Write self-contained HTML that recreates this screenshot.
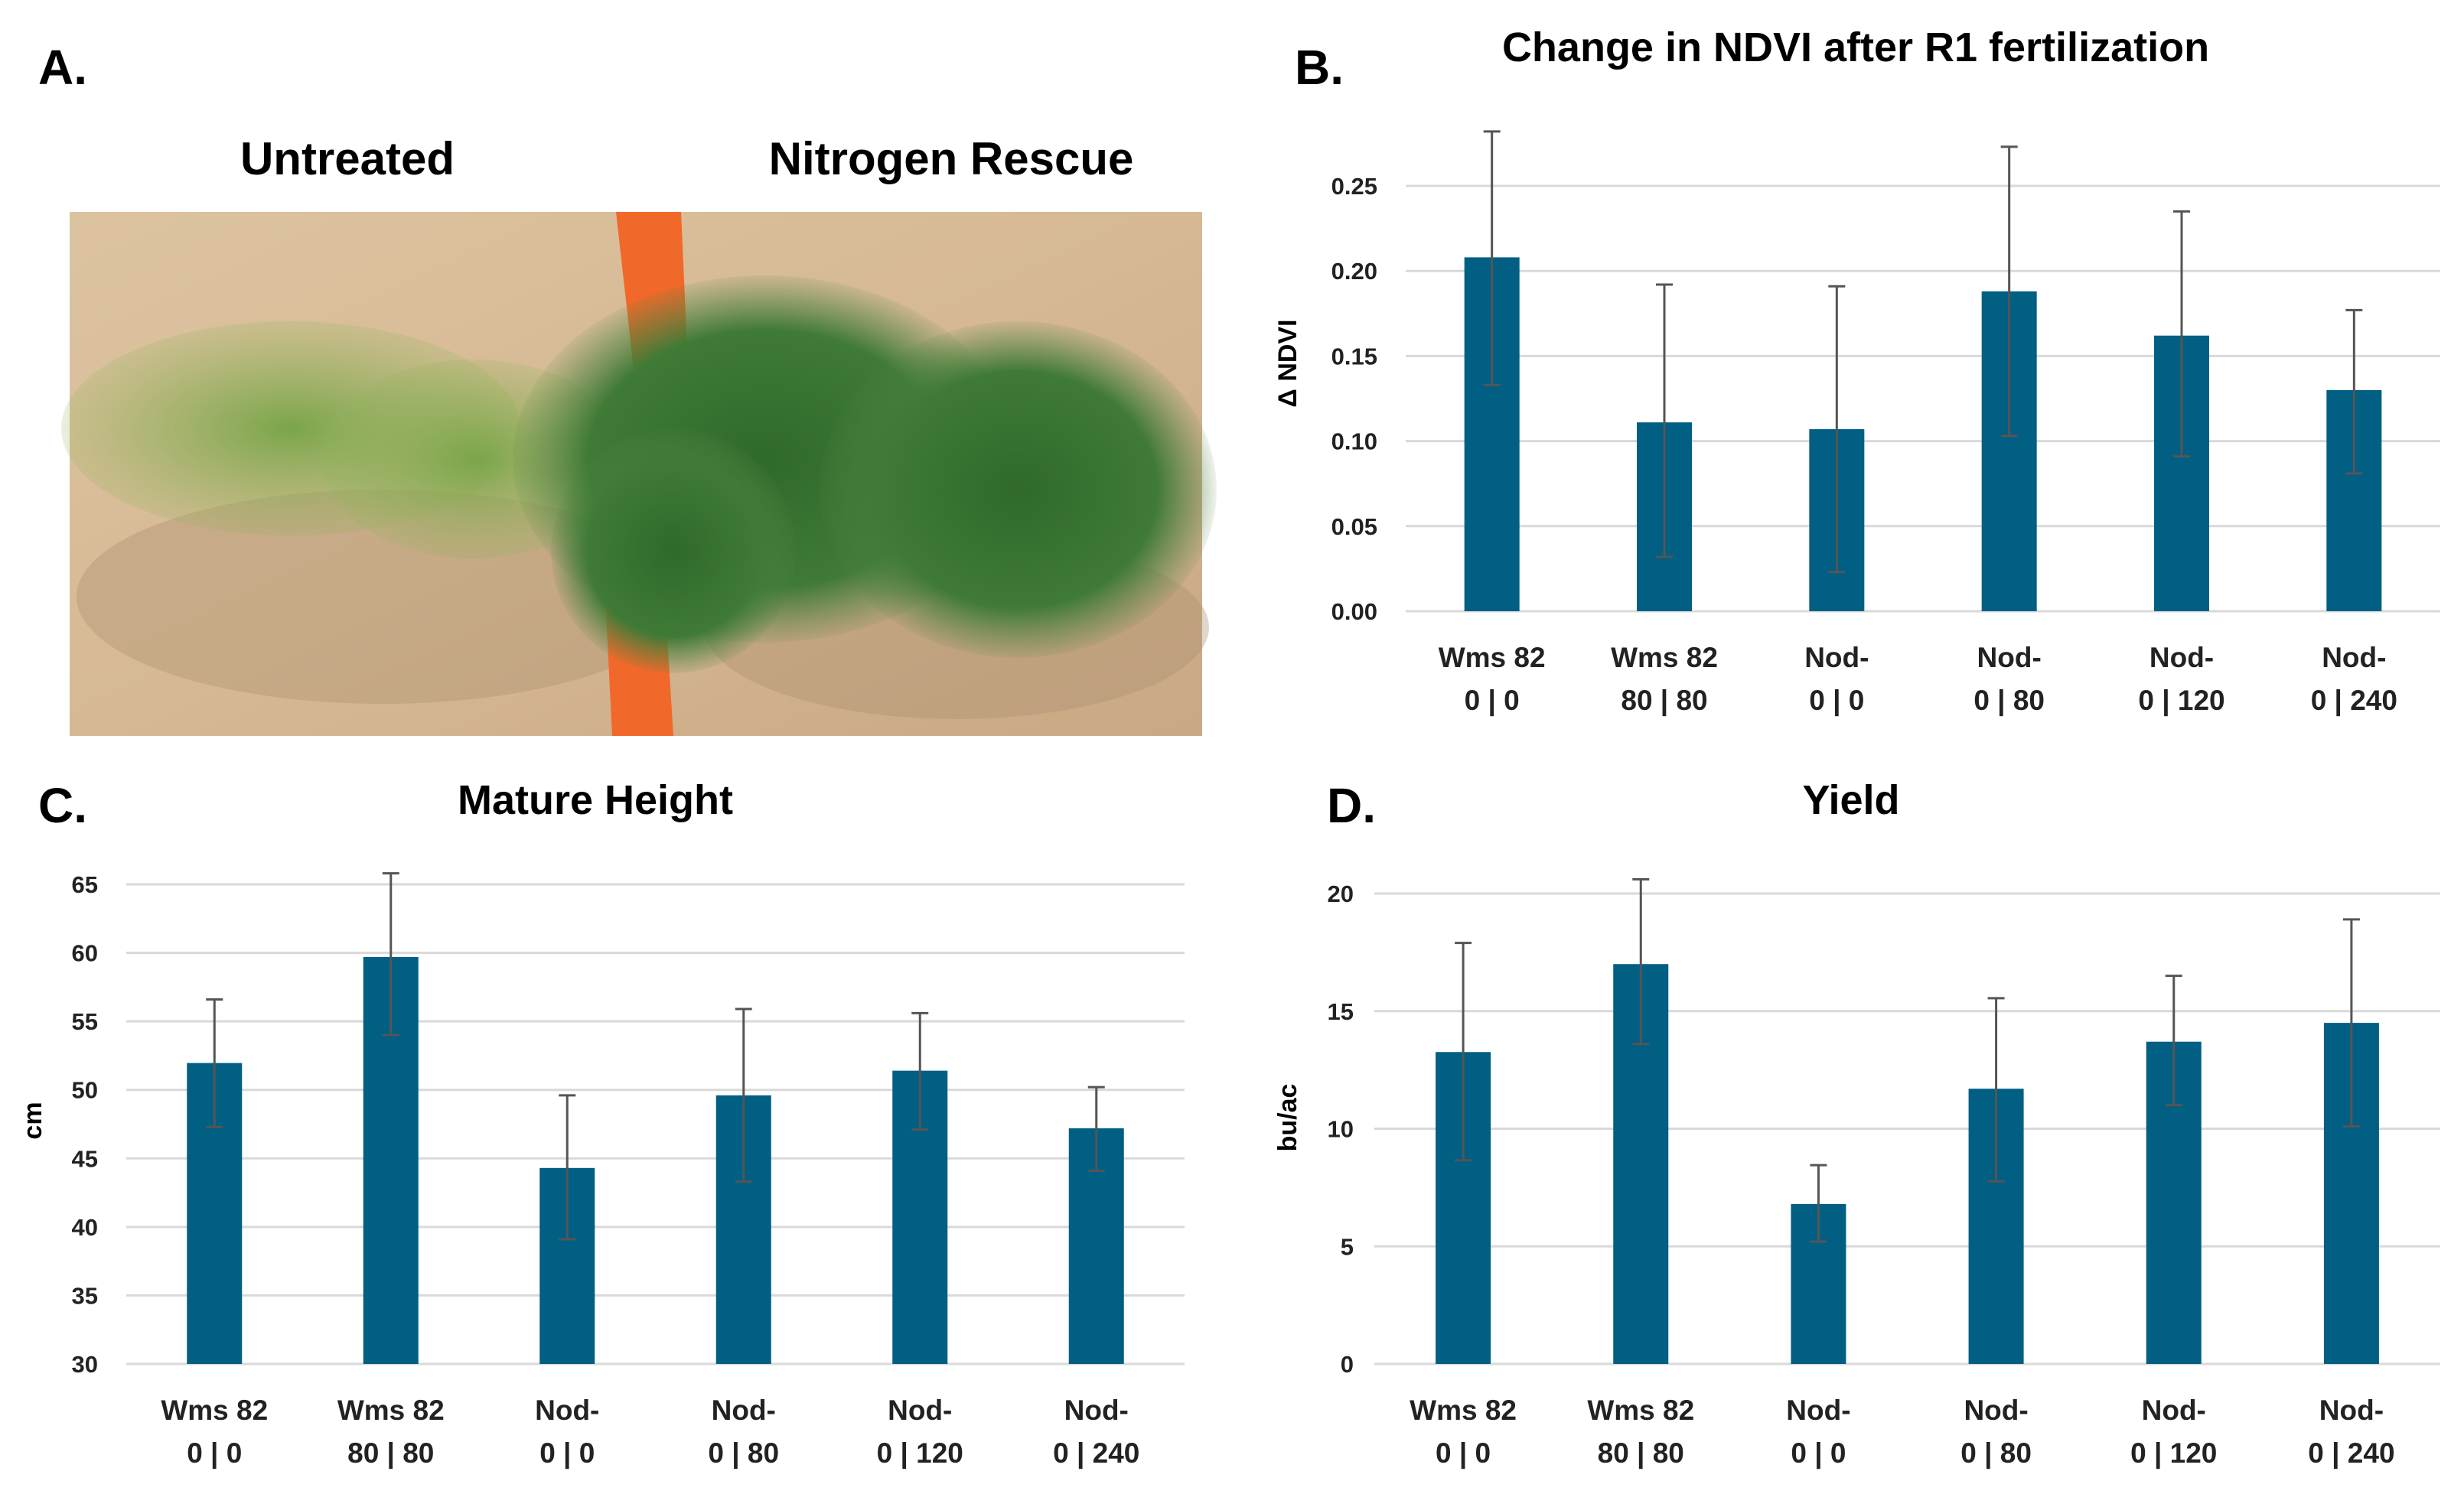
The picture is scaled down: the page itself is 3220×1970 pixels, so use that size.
<!DOCTYPE html>
<html><head><meta charset="utf-8"><style>
html,body{margin:0;padding:0;background:#fff;}
svg{display:block;font-family:"Liberation Sans",sans-serif;}
</style></head><body>
<svg id="fig" width="3220" height="1970" viewBox="0 0 3220 1970" xmlns="http://www.w3.org/2000/svg">
<defs>
<linearGradient id="sand" x1="0" y1="0" x2="1" y2="1">
<stop offset="0" stop-color="#dcc3a0"/><stop offset="0.5" stop-color="#d6b993"/><stop offset="1" stop-color="#c9a884"/>
</linearGradient>
<radialGradient id="leafL" cx="0.5" cy="0.5" r="0.5"><stop offset="0" stop-color="#7aa54a"/><stop offset="1" stop-color="#8fb35a" stop-opacity="0.2"/></radialGradient>
<radialGradient id="leafR" cx="0.5" cy="0.5" r="0.5"><stop offset="0" stop-color="#2f6a2c"/><stop offset="0.7" stop-color="#3f7a36"/><stop offset="1" stop-color="#4d8440" stop-opacity="0.1"/></radialGradient>
</defs>
<g>
<text x="50" y="110" font-size="64" font-weight="bold">A.</text>
<text x="454" y="228" font-size="60" font-weight="bold" text-anchor="middle">Untreated</text>
<text x="1243" y="228" font-size="60" font-weight="bold" text-anchor="middle">Nitrogen Rescue</text>
<g>
<rect x="91" y="277" width="1480" height="685" fill="url(#sand)"/>
<ellipse cx="500" cy="780" rx="400" ry="140" fill="#a98b6c" opacity="0.35"/>
<ellipse cx="1250" cy="820" rx="330" ry="120" fill="#a98b6c" opacity="0.35"/>
<path d="M805 277 L890 277 L900 500 L870 800 L880 962 L800 962 L790 760 L830 500 Z" fill="#f0692a"/>
<ellipse cx="380" cy="560" rx="300" ry="140" fill="url(#leafL)"/>
<ellipse cx="620" cy="600" rx="200" ry="130" fill="url(#leafL)"/>
<ellipse cx="1000" cy="600" rx="330" ry="240" fill="url(#leafR)"/>
<ellipse cx="1330" cy="640" rx="260" ry="220" fill="url(#leafR)"/>
<ellipse cx="880" cy="720" rx="160" ry="160" fill="url(#leafR)"/>
</g>
</g>
<g id="charts"></g>
</svg>
<script>
const categoriesLine1 = ["Wms 82","Wms 82","Nod-","Nod-","Nod-","Nod-"];
const categoriesLine2 = ["0 | 0","80 | 80","0 | 0","0 | 80","0 | 120","0 | 240"];

const ndviValues = [0.208,0.111,0.107,0.188,0.162,0.130];
const ndviUpper = [0.282,0.192,0.191,0.273,0.235,0.177];
const ndviLower = [0.133,0.032,0.023,0.103,0.091,0.081];
const ndviTicks = ["0.00","0.05","0.10","0.15","0.20","0.25"];

const heightValues = [51.96,59.7,44.3,49.6,51.4,47.2];
const heightUpper = [56.6,65.8,49.6,55.9,55.6,50.2];
const heightLower = [47.3,54.0,39.1,43.3,47.1,44.1];
const heightTicks = ["30","35","40","45","50","55","60","65"];

const yieldValues = [13.26,17.0,6.8,11.7,13.7,14.5];
const yieldUpper = [17.9,20.6,8.45,15.55,16.5,18.9];
const yieldLower = [8.66,13.6,5.2,7.77,11.0,10.1];
const yieldTicks = ["0","5","10","15","20"];

const NS="http://www.w3.org/2000/svg";
const root=document.getElementById('charts');
function mk(tag,attrs,parent){const e=document.createElementNS(NS,tag);for(const k in attrs)e.setAttribute(k,attrs[k]);parent.appendChild(e);return e;}

function drawChart(cfg,vals,up,lo,ticks){
  const g=mk('g',{},root);
  
  
  const tmin=parseFloat(ticks[0]),tmax=parseFloat(ticks[ticks.length-1]);
  const y=v=>cfg.y0-(v-tmin)/(tmax-tmin)*(cfg.y0-cfg.y1);
  const n=vals.length, step=(cfg.x1-cfg.x0)/n;
  const x=i=>cfg.x0+step*(i+0.5);
  ticks.forEach(t=>{
    const v=parseFloat(t);
    const l=mk('line',{x1:cfg.x0,x2:cfg.x1,y1:y(v),y2:y(v),stroke:'#d9d9d9','stroke-width':3},g);
    
    
    const tx=mk('text',{x:cfg.tickX,y:y(v)+11,'font-size':31,'font-weight':'bold','text-anchor':'end',fill:'#222'},g);
    tx.textContent=t;
    
    
  });
  vals.forEach((v,i)=>{
    const r=mk('rect',{x:x(i)-36,y:y(v),width:72,height:y(tmin)-y(v),fill:'#005f82'},g);
    
    
    const eg=mk('g',{stroke:'#555','stroke-width':3},g);
    
    
    mk('line',{x1:x(i),x2:x(i),y1:y(up[i]),y2:y(lo[i])},eg);
    mk('line',{x1:x(i)-11,x2:x(i)+11,y1:y(up[i]),y2:y(up[i])},eg);
    mk('line',{x1:x(i)-11,x2:x(i)+11,y1:y(lo[i]),y2:y(lo[i])},eg);
    const c1=mk('text',{x:x(i),y:cfg.labY,'font-size':37,'font-weight':'bold','text-anchor':'middle',fill:'#222'},g);
    c1.textContent=categoriesLine1[i];
    
    
    const c2=mk('text',{x:x(i),y:cfg.labY+56,'font-size':37,'font-weight':'bold','text-anchor':'middle',fill:'#222'},g);
    c2.textContent=categoriesLine2[i];
    
    
  });
  const tt=mk('text',{x:cfg.titleX,y:cfg.titleY,'font-size':54,'font-weight':'bold','text-anchor':'middle'},g);
  tt.textContent=cfg.title;
  
  
  const pl=mk('text',{x:cfg.panelX,y:cfg.panelY,'font-size':64,'font-weight':'bold'},g);
  pl.textContent=cfg.panel;
  
  
  const at=mk('text',{x:0,y:0,'font-size':34,'font-weight':'bold','text-anchor':'middle',transform:`translate(${cfg.axX},${cfg.axY}) rotate(-90)`},g);
  at.textContent=cfg.axis;
  
  
}

drawChart({name:'ndvi-chart',x0:1837,x1:3189,y0:799,y1:243,tickX:1800,labY:872,title:'Change in NDVI after R1 fertilization',titleX:2425,titleY:80,panel:'B.',panelX:1692,panelY:110,axis:'Δ NDVI',axX:1694,axY:475},ndviValues,ndviUpper,ndviLower,ndviTicks);
drawChart({name:'height-chart',x0:165,x1:1548,y0:1783,y1:1156,tickX:128,labY:1856,title:'Mature Height',titleX:778,titleY:1064,panel:'C.',panelX:50,panelY:1075,axis:'cm',axX:54,axY:1465},heightValues,heightUpper,heightLower,heightTicks);
drawChart({name:'yield-chart',x0:1796,x1:3189,y0:1783,y1:1168,tickX:1769,labY:1856,title:'Yield',titleX:2419,titleY:1064,panel:'D.',panelX:1734,panelY:1075,axis:'bu/ac',axX:1694,axY:1461},yieldValues,yieldUpper,yieldLower,yieldTicks);
</script>
</body></html>
